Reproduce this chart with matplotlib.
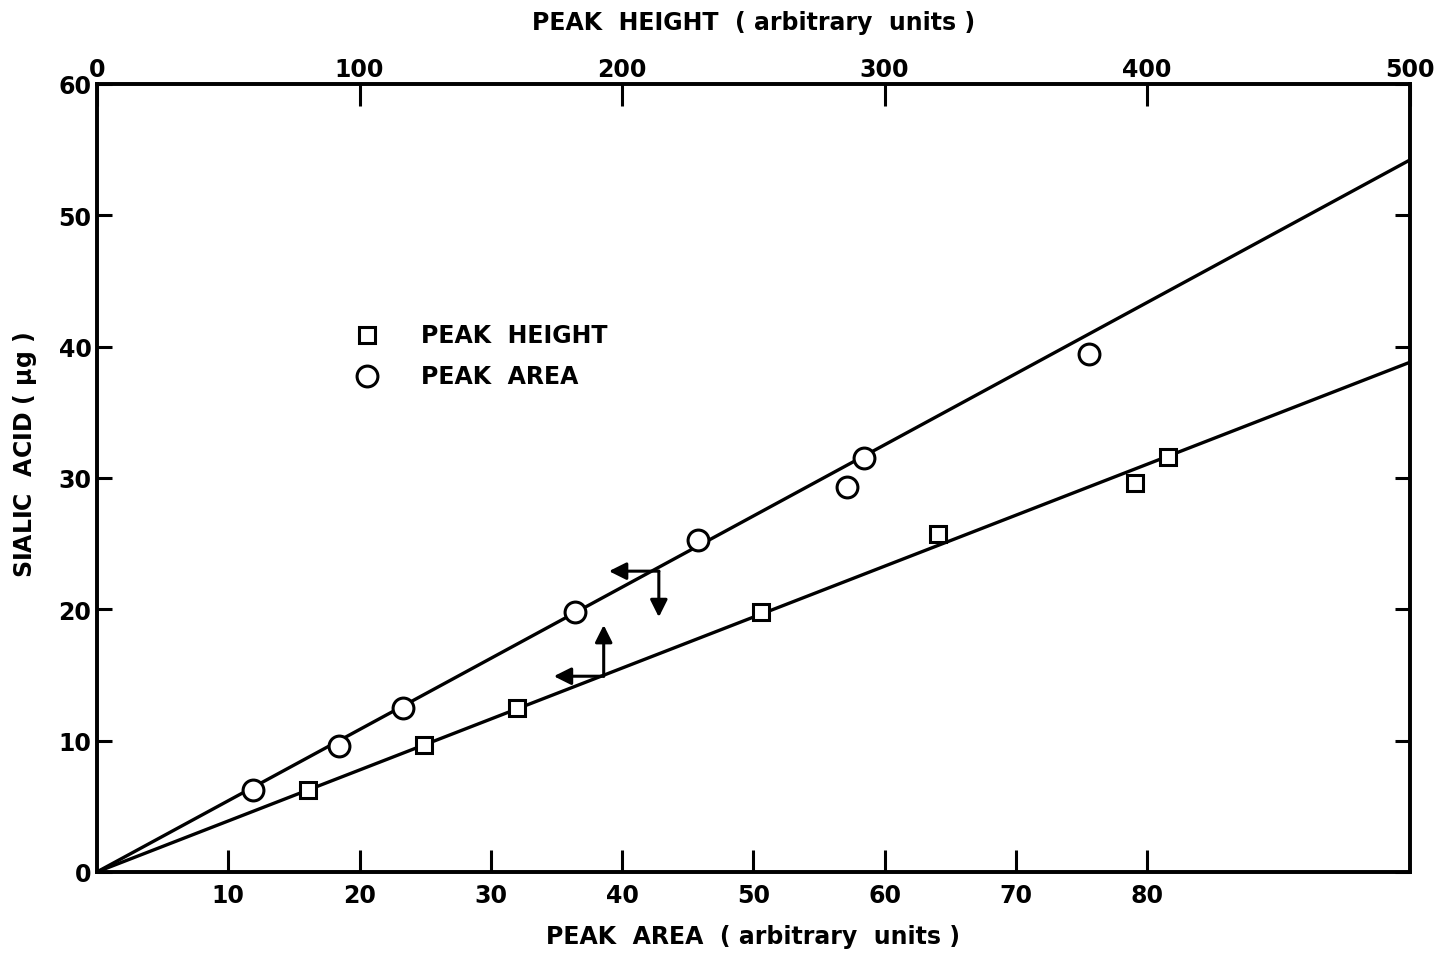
import matplotlib.pyplot as plt

# Peak area (bottom axis) vs sialic acid
area_x = [11.9, 18.4, 23.3, 36.4, 45.8, 57.1, 58.4, 75.6]
area_y = [6.2, 9.6, 12.5, 19.8, 25.3, 29.3, 31.5, 39.4]

# Peak height (top axis) vs sialic acid
height_x = [80.4, 124.5, 160.0, 253.0, 320.5, 395.5, 408.0]
height_y = [6.2, 9.7, 12.5, 19.8, 25.7, 29.6, 31.6]

# fitted lines through the origin
area_fit_x = [0, 100]
area_fit_y = [0, 54.2]
height_fit_x = [0, 500]
height_fit_y = [0, 38.8]

bottom_ticks = [10, 20, 30, 40, 50, 60, 70, 80]
top_ticks = [0, 100, 200, 300, 400, 500]
y_ticks = [0, 10, 20, 30, 40, 50, 60]

plt.rcParams['font.family'] = 'DejaVu Sans'
plt.rcParams['font.weight'] = 'bold'
plt.rcParams['axes.labelweight'] = 'bold'

fig = plt.figure(figsize=(14.37, 9.54), dpi=100)
ax = fig.add_axes([0.0675, 0.085, 0.9135, 0.826])
ax2 = ax.twiny()

lw = 2.4
ax.plot(area_fit_x, area_fit_y, color='black', lw=lw, zorder=2)
ax.plot(area_x, area_y, 'o', ms=15, mfc='white', mec='black', mew=2.2, zorder=3)
ax2.plot(height_fit_x, height_fit_y, color='black', lw=lw, zorder=2)
ax2.plot(height_x, height_y, 's', ms=11, mfc='white', mec='black', mew=2.2, zorder=3)

ax.set_xlim(0, 100)
ax.set_ylim(0, 60)
ax2.set_xlim(0, 500)

ax.set_xticks(bottom_ticks)
ax.set_yticks(y_ticks)
ax2.set_xticks(top_ticks)

for a in (ax, ax2):
    for s in a.spines.values():
        s.set_linewidth(2.6)

ax.tick_params(axis='x', direction='in', length=16, width=2.2, labelsize=17, pad=8)
ax.tick_params(axis='y', direction='in', length=11, width=2.2, labelsize=17,
               right=True, pad=4)
ax2.tick_params(axis='x', direction='in', length=16, width=2.2, labelsize=17, pad=2)

ax.set_xlabel('PEAK  AREA  ( arbitrary  units )', fontsize=17, labelpad=12)
ax2.set_xlabel('PEAK  HEIGHT  ( arbitrary  units )', fontsize=17, labelpad=20)
ax.set_ylabel('SIALIC  ACID ( $\\mathbf{\\mu}$g )', fontsize=17)
ax.yaxis.set_label_coords(-0.044, 0.53)

# arrows showing which axis each line uses
arrow = dict(arrowstyle='-|>', color='black', lw=2.2, mutation_scale=26,
             shrinkA=0, shrinkB=0)
ax.annotate('', xy=(39.0, 22.9), xytext=(42.8, 22.9), arrowprops=arrow)
ax.annotate('', xy=(42.8, 19.4), xytext=(42.8, 22.9), arrowprops=arrow)
ax2.annotate('', xy=(174.0, 14.9), xytext=(193.0, 14.9), arrowprops=arrow)
ax2.annotate('', xy=(193.0, 18.8), xytext=(193.0, 14.9), arrowprops=arrow)

# legend
ax.plot([0.206], [0.681], 's', ms=11, mfc='white', mec='black', mew=2.2,
        transform=ax.transAxes, clip_on=False)
ax.plot([0.206], [0.629], 'o', ms=15, mfc='white', mec='black', mew=2.2,
        transform=ax.transAxes, clip_on=False)
ax.text(0.247, 0.681, 'PEAK  HEIGHT', transform=ax.transAxes, fontsize=17,
        va='center', ha='left')
ax.text(0.247, 0.629, 'PEAK  AREA', transform=ax.transAxes, fontsize=17,
        va='center', ha='left')

fig.savefig('out.png', dpi=100)
